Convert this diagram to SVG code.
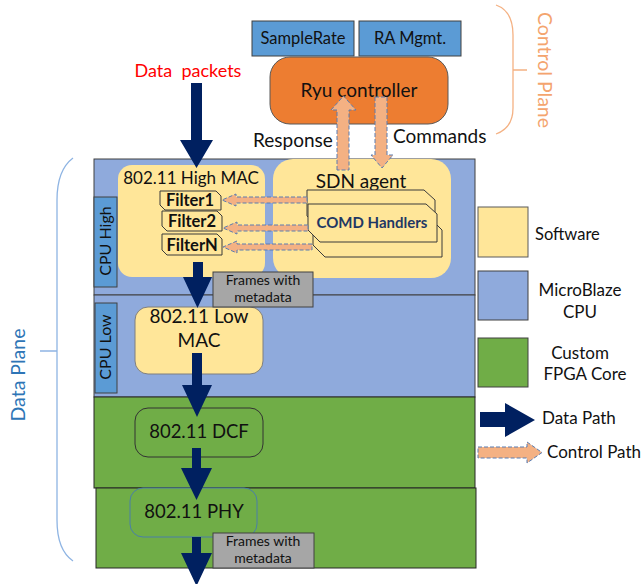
<svg xmlns="http://www.w3.org/2000/svg" width="641" height="584" viewBox="0 0 641 584">
<style>
text{font-family:Lato,"Liberation Sans",sans-serif;fill:#111}
.sw{fill:#FFE699}
.cpu{fill:#8FAADC;stroke:#404040;stroke-width:1}
.fpga{fill:#70AD47;stroke:#262626;stroke-width:1}
.lbl{fill:#5B9BD5;stroke:#404040;stroke-width:1}
.grey{fill:#A6A6A6;stroke:#404040;stroke-width:1}
.data{fill:#002060}
.ctl{fill:#F4B183;stroke:#5B7DB1;stroke-width:1;stroke-dasharray:4 2}
.flt{fill:#FFE699;stroke:#3A3A3A;stroke-width:1}
.c{text-anchor:middle}
.b{font-weight:bold}
</style>

<g id="control-plane-brace">
<path d="M496,5 Q513,11 513,35 L513,108 Q513,128 496,134 M513,70 H527" fill="none" stroke="#F4B183" stroke-width="1.3"/>
<text transform="translate(538,70) rotate(90)" class="c" font-size="19.5" style="fill:#F4A46E">Control Plane</text>
</g>

<g id="data-plane-brace">
<path d="M73,158 Q57,170 57,200 L57,520 Q57,550 73,561 M40,351 H57" fill="none" stroke="#8EB4E3" stroke-width="1.3"/>
<text transform="translate(25,375) rotate(-90)" class="c" font-size="19.5" style="fill:#2E75B6">Data Plane</text>
</g>

<g id="regions">
<rect id="cpu-high-region" class="cpu" x="94" y="159" width="381" height="136"/>
<rect id="cpu-low-region" class="cpu" x="94" y="295" width="381" height="102"/>
<rect id="fpga-region-1" class="fpga" x="94" y="397" width="381" height="91"/>
<rect id="fpga-region-2" class="fpga" x="96" y="488" width="380" height="80"/>
</g>

<g id="samplerate">
<rect class="lbl" x="252" y="21" width="102" height="35"/>
<text x="303" y="44" class="c" font-size="16.5">SampleRate</text>
</g>
<g id="ra-mgmt">
<rect class="lbl" x="359" y="21" width="102" height="35"/>
<text x="410" y="44" class="c" font-size="16.5">RA Mgmt.</text>
</g>

<g id="ryu-controller">
<rect x="270" y="57" width="178" height="67" rx="20" fill="#ED7D31" stroke="#595959" stroke-width="1"/>
<text x="359" y="97" class="c" font-size="19">Ryu controller</text>
</g>

<g id="data-packets-label">
<text x="188" y="77" class="c" font-size="18" style="fill:#FF0000;white-space:pre" xml:space="preserve">Data  packets</text>
</g>

<g id="high-mac">
<rect class="sw" x="118" y="165" width="147" height="112" rx="14"/>
<text x="191" y="184" class="c" font-size="17">802.11 High MAC</text>
</g>

<g id="sdn-agent">
<rect class="sw" x="273" y="159" width="178" height="119" rx="20"/>
<text x="361" y="188" class="c" font-size="19">SDN agent</text>
</g>

<g id="comd-handlers">
<polygon class="flt" points="307,190 424,190 435,200 435,228 319,228 307,216"/>
<polygon class="flt" points="313,219 431,219 442,230 442,257 325,257 313,245"/>
<polygon class="flt" points="308,204 426,204 437,214 437,242 320,242 308,230"/>
<text x="372" y="228" class="c b" font-size="15" style="fill:#1F3864">COMD Handlers</text>
</g>

<g id="filter1">
<polygon class="flt" points="160,191 216,191 221,196 221,210 165,210 160,205"/>
<text x="190" y="206" class="c b" font-size="16.5">Filter1</text>
</g>
<g id="filter2">
<polygon class="flt" points="162,211 217,211 222,216 222,231 167,231 162,226"/>
<text x="192" y="227" class="c b" font-size="16.5">Filter2</text>
</g>
<g id="filterN">
<polygon class="flt" points="162,234 217,234 222,239 222,255 167,255 162,250"/>
<text x="192" y="250.5" class="c b" font-size="16.5">FilterN</text>
</g>

<g id="cpu-high-label">
<rect class="lbl" x="94" y="197" width="23" height="90"/>
<text transform="translate(111,241) rotate(-90)" class="c" font-size="16">CPU High</text>
</g>

<g id="cpu-low-label">
<rect class="lbl" x="95" y="303" width="22" height="90"/>
<text transform="translate(111,347) rotate(-90)" class="c" font-size="16">CPU Low</text>
</g>

<g id="low-mac">
<rect class="sw" x="135" y="307" width="128" height="67" rx="13" stroke="#7F7F7F" stroke-width="1"/>
<text x="199" y="323" class="c" font-size="19">802.11 Low</text>
<text x="199" y="347" class="c" font-size="19">MAC</text>
</g>

<g id="dcf">
<rect x="135" y="408" width="128" height="49" rx="13" fill="#70AD47" stroke="#333" stroke-width="1"/>
<text x="199" y="438" class="c" font-size="18.5">802.11 DCF</text>
</g>

<g id="phy">
<rect x="130" y="488" width="127" height="49" rx="13" fill="#70AD47" stroke="#4A7FA8" stroke-width="1"/>
<text x="194" y="518" class="c" font-size="18.5">802.11 PHY</text>
</g>

<g id="frames-1">
<rect class="grey" x="213" y="272" width="100" height="35"/>
<text x="263" y="285" class="c" font-size="14">Frames with</text>
<text x="263" y="302" class="c" font-size="14">metadata</text>
</g>
<g id="frames-2">
<rect class="grey" x="213" y="533" width="101" height="35"/>
<text x="263" y="546" class="c" font-size="14">Frames with</text>
<text x="263" y="563" class="c" font-size="14">metadata</text>
</g>

<g id="connectors">
<polygon class="data" points="191,83 202,83 202,140 213,140 196.5,168 180,140 191,140"/>
<polygon class="data" points="193,262 203,262 203,277 212,277 197.5,308 183,277 193,277"/>
<polygon class="data" points="192,353 202,353 202,385 212,385 197,417 182,385 192,385"/>
<polygon class="data" points="192,448 201,448 201,468 212,468 196.5,500 181,468 192,468"/>
<polygon class="data" points="192,537 201,537 201,553 212,553 196.5,586 181,553 192,553"/>
<polygon class="ctl" points="337,170 337,110 331,110 343.5,96 356,110 349,110 349,170"/>
<polygon class="ctl" points="375,97 387,97 387,155 393,155 382,168 371,155 375,155"/>
<polygon class="ctl" points="307,197 236,197 236,194 222,200 236,206 236,203 307,203"/>
<polygon class="ctl" points="308,225 237,225 237,222 223,228 237,234 237,231 308,231"/>
<polygon class="ctl" points="312,244 237,244 237,241 223,247 237,253 237,250 312,250"/>
</g>

<g id="response-label"><text x="253" y="147" font-size="19">Response</text></g>
<g id="commands-label"><text x="393" y="143" font-size="19">Commands</text></g>

<g id="legend">
<rect x="478" y="207" width="50" height="50" fill="#FFE699" stroke="#5A5A5A" stroke-width="1"/>
<text x="535" y="240" font-size="16.5">Software</text>
<rect x="478" y="271" width="50" height="49" fill="#8FAADC" stroke="#404040" stroke-width="1"/>
<text x="580" y="296" class="c" font-size="17">MicroBlaze</text>
<text x="580" y="318" class="c" font-size="17">CPU</text>
<rect x="478" y="338" width="50" height="49" fill="#70AD47" stroke="#404040" stroke-width="1"/>
<text x="580" y="359" class="c" font-size="17">Custom</text>
<text x="585" y="380" class="c" font-size="17">FPGA Core</text>
<polygon class="data" points="480,412 505,412 505,403 535,420 505,437 505,427 480,427"/>
<text x="542" y="424" font-size="17">Data Path</text>
<polygon class="ctl" points="478,447 527,447 527,442 542,452.5 527,463 527,458 478,458"/>
<text x="547" y="458" font-size="17">Control Path</text>
</g>
</svg>
